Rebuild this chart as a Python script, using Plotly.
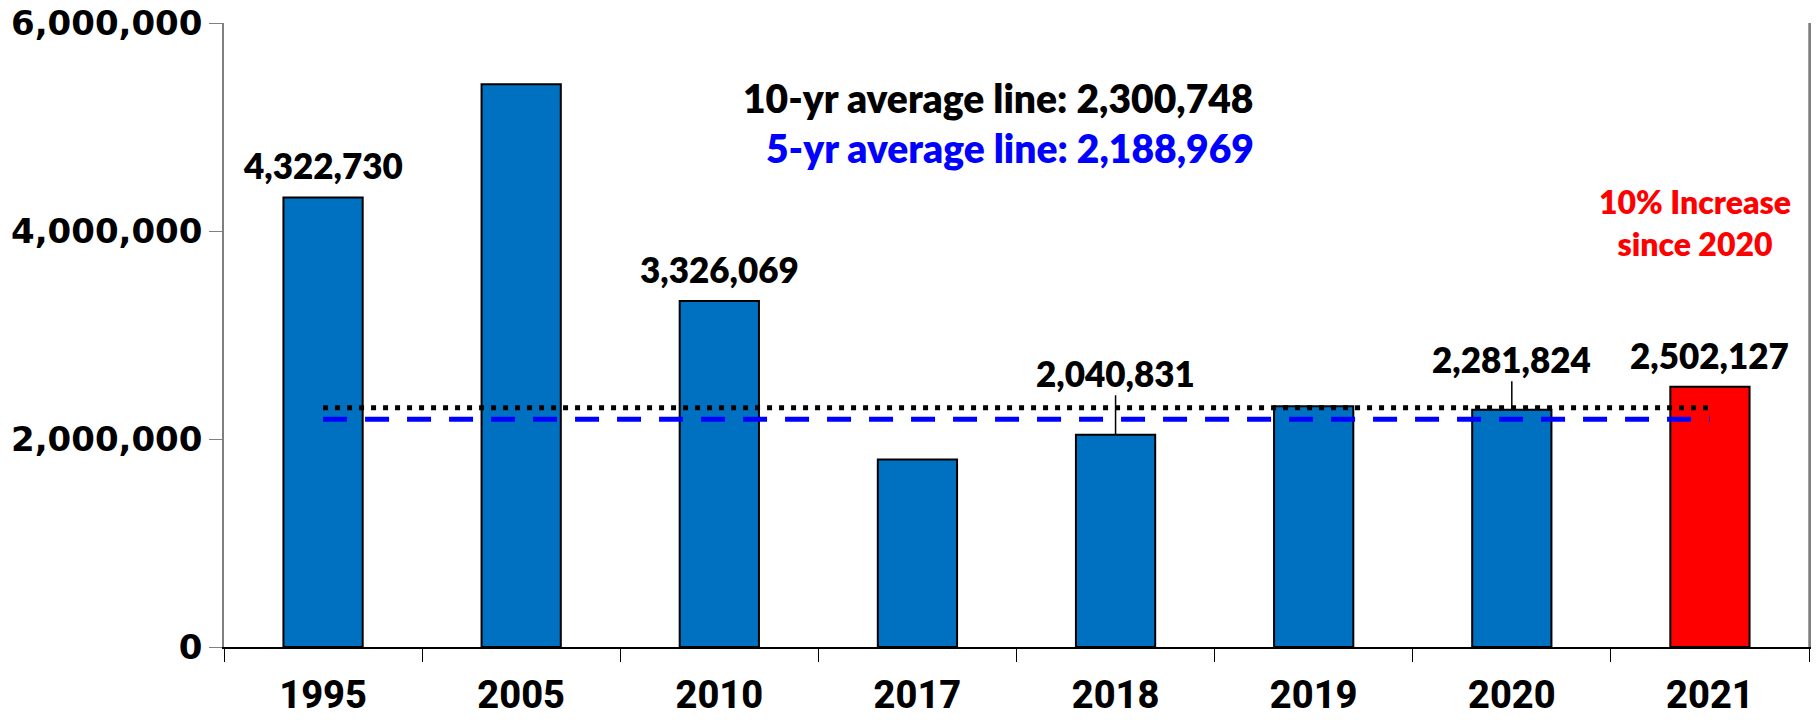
import plotly.graph_objects as go

years = ["1995", "2005", "2010", "2017", "2018", "2019", "2020", "2021"]
values = [4322730, 5410000, 3326069, 1803000, 2040831, 2315000, 2281824, 2502127]
bar_colors = ["#0070C0"] * 7 + ["#FF0000"]
labeled = {"1995": 0, "2010": 0, "2018": 1, "2020": 1, "2021": 0}
avg10 = 2300748
avg5 = 2188969
y_ticks = [0, 2000000, 4000000, 6000000]
y_tick_text = ["0", "2,000,000", "4,000,000", "6,000,000"]

FAM = "Lato, Roboto, sans-serif"
label_font = dict(family=FAM, size=35, color="black", weight=800)

fig = go.Figure()
fig.add_trace(go.Bar(
    x=years, y=values, width=0.4,
    marker=dict(color=bar_colors, line=dict(color="black", width=2)),
    hoverinfo="skip", showlegend=False,
))
fig.add_trace(go.Scatter(
    x=[years[0], years[-1]], y=[avg5, avg5], mode="lines",
    line=dict(color="#0000FF", width=5, dash="24px,18px"), showlegend=False,
))
fig.add_trace(go.Scatter(
    x=[years[0], years[-1]], y=[avg10, avg10], mode="lines",
    line=dict(color="black", width=5, dash="5px,7px"), showlegend=False,
))

shifts = {"2018": 62, "2020": 51}
for i, (yr, v) in enumerate(zip(years, values)):
    if yr not in labeled:
        continue
    txt = f"{v:,}"
    if labeled[yr]:
        fig.add_annotation(x=i, y=v, text=txt, showarrow=True, ax=0, ay=-shifts[yr],
                           arrowhead=0, arrowwidth=1.5, arrowcolor="black", standoff=0,
                           font=label_font)
    else:
        fig.add_annotation(x=i, y=v, text=txt, showarrow=False, yanchor="middle",
                           yshift=32, font=label_font)

fig.add_annotation(xref="paper", yref="paper", x=0.651, y=0.88, xanchor="right", yanchor="middle",
                   text=f"10-yr average line: {avg10:,}", showarrow=False,
                   font=dict(family=FAM, size=39, color="black", weight=800))
fig.add_annotation(xref="paper", yref="paper", x=0.651, y=0.80, xanchor="right", yanchor="middle",
                   text=f"5-yr average line: {avg5:,}", showarrow=False,
                   font=dict(family=FAM, size=39, color="#0000FF", weight=800))
fig.add_annotation(xref="paper", yref="paper", x=0.928, y=0.681, xanchor="center", yanchor="middle",
                   text="10% Increase<br>since 2020", showarrow=False,
                   font=dict(family=FAM, size=32, color="#FF0000", weight=800))

fig.update_layout(
    width=1816, height=720,
    margin=dict(l=224, r=7, t=23, b=73),
    paper_bgcolor="white", plot_bgcolor="white",
)
fig.update_xaxes(
    type="category", categoryorder="array", categoryarray=years, range=[-0.5, len(years) - 0.5],
    tickson="boundaries", ticks="outside", ticklen=13, tickcolor="black", automargin=False,
    showline=True, linecolor="black", linewidth=1.5, showgrid=False, tickangle=0,
    tickfont=dict(family="Liberation Sans Narrow, Roboto, sans-serif", size=38, color="black", weight=800),
    ticklabelstandoff=14,
)
fig.update_yaxes(
    range=[0, 6000000], tickvals=y_ticks, ticktext=y_tick_text, ticks="outside", ticklen=13,
    tickcolor="#7f7f7f", showline=True, linecolor="#7f7f7f", linewidth=1.5, mirror=True,
    showgrid=False, zeroline=False, automargin=False,
    tickfont=dict(family="DejaVu Sans, Verdana, sans-serif", size=34, color="black", weight="bold"),
)
fig.add_shape(type="line", xref="paper", yref="paper", x0=1, x1=1, y0=0, y1=1,
              line=dict(color="#7f7f7f", width=1.5))

fig.write_html("out.html")
